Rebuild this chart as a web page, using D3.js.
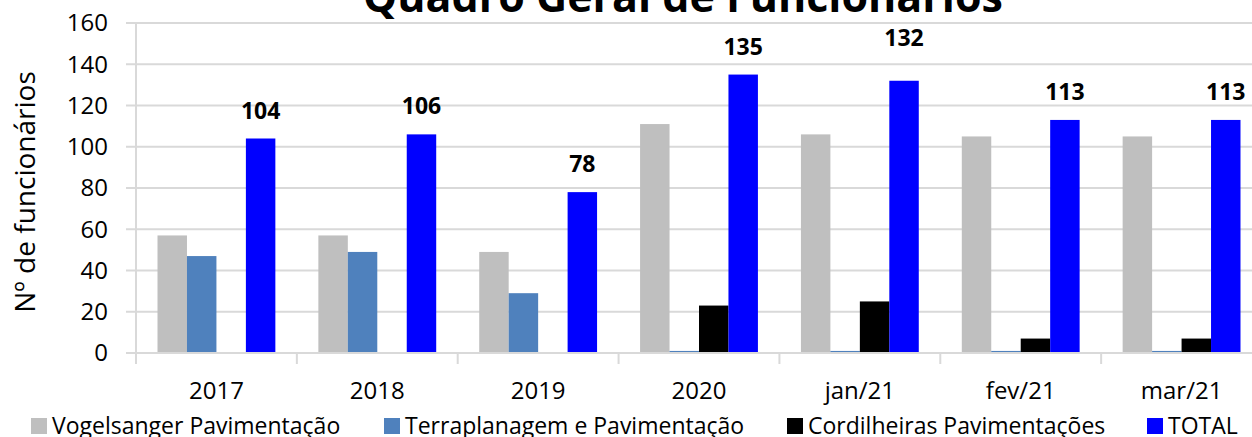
<!DOCTYPE html>
<html>
<head>
<meta charset="utf-8">
<script src="https://cdn.jsdelivr.net/npm/d3@7"></script>
<style>
  body { margin: 0; background: #fff; }
  svg text { font-family: "Open Sans", Lato, sans-serif; fill: #000; }
</style>
</head>
<body>
<svg width="1252" height="437"></svg>
<script>
var categories = ["2017", "2018", "2019", "2020", "jan/21", "fev/21", "mar/21"];
var seriesNames = ["Vogelsanger Pavimentação", "Terraplanagem e Pavimentação", "Cordilheiras Pavimentações", "TOTAL"];
var vogelsanger = [57, 57, 49, 111, 106, 105, 105];
var terraplanagem = [47, 49, 29, 1, 1, 1, 1];
var cordilheiras = [0, 0, 0, 23, 25, 7, 7];
var total = [104, 106, 78, 135, 132, 113, 113];
var yTicks = [0, 20, 40, 60, 80, 100, 120, 140, 160];
var colors = ["#BFBFBF", "#4F81BD", "#000000", "#0000FF"];

var series = [vogelsanger, terraplanagem, cordilheiras, total];

var svg = d3.select("svg"),
    width = +svg.attr("width"),
    height = +svg.attr("height");

var x0 = d3.scaleBand().domain(categories).range([136, 1262]).paddingInner(0).paddingOuter(0);
var x1 = d3.scaleBand().domain(d3.range(4)).range([0, x0.bandwidth()]).paddingOuter(0.73).paddingInner(0);
var y = d3.scaleLinear().domain([0, 160]).range([353, 23]);

// gridlines
svg.append("g")
  .selectAll("line")
  .data(yTicks)
  .enter().append("line")
    .attr("x1", 126).attr("x2", 1262)
    .attr("y1", function(d) { return y(d); })
    .attr("y2", function(d) { return y(d); })
    .attr("stroke", "#D9D9D9")
    .attr("stroke-width", 2);

// y axis line
svg.append("line")
  .attr("x1", 136).attr("x2", 136)
  .attr("y1", y(160)).attr("y2", y(0))
  .attr("stroke", "#D9D9D9").attr("stroke-width", 2);

// y tick labels
svg.append("g")
  .selectAll("text")
  .data(yTicks)
  .enter().append("text")
    .attr("x", 108)
    .attr("y", function(d) { return y(d); })
    .attr("dy", "0.35em")
    .attr("text-anchor", "end")
    .attr("font-size", "24px")
    .text(function(d) { return d; });

// bars
var groups = svg.append("g")
  .selectAll("g")
  .data(categories)
  .enter().append("g")
    .attr("transform", function(d) { return "translate(" + x0(d) + ",0)"; });

groups.selectAll("rect")
  .data(function(d, i) { return series.map(function(s, k) { return {k: k, v: s[i]}; }); })
  .enter().append("rect")
    .attr("x", function(d) { return x1(d.k); })
    .attr("width", x1.bandwidth())
    .attr("y", function(d) { return y(d.v); })
    .attr("height", function(d) { return y(0) - y(d.v); })
    .attr("fill", function(d) { return colors[d.k]; });

// category axis
var gx = svg.append("g").attr("transform", "translate(0," + y(0) + ")");
gx.append("line").attr("x1", 136).attr("x2", 1262).attr("stroke", "#D9D9D9").attr("stroke-width", 2);
gx.selectAll(".tk")
  .data(categories.concat(["end"]))
  .enter().append("line")
    .attr("x1", function(d, i) { return 136 + i * x0.bandwidth(); })
    .attr("x2", function(d, i) { return 136 + i * x0.bandwidth(); })
    .attr("y1", 0).attr("y2", 11)
    .attr("stroke", "#D9D9D9").attr("stroke-width", 2);
gx.selectAll(".cl")
  .data(categories)
  .enter().append("text")
    .attr("x", function(d) { return x0(d) + x0.bandwidth() / 2; })
    .attr("y", 46)
    .attr("text-anchor", "middle")
    .attr("font-size", "24px")
    .text(function(d) { return d; });

// total labels
var nudge = {"jan/21": 15};
svg.append("g")
  .selectAll("text")
  .data(categories)
  .enter().append("text")
    .attr("x", function(d) { return x0(d) + x1(3) + x1.bandwidth() / 2; })
    .attr("y", function(d, i) { return y(total[i]) - 20 - (nudge[d] || 0); })
    .attr("text-anchor", "middle")
    .attr("font-size", "23px")
    .attr("font-weight", "bold")
    .text(function(d, i) { return total[i]; });

// title
svg.append("text")
  .attr("x", 683)
  .attr("y", 12)
  .attr("text-anchor", "middle")
  .attr("font-size", "43px")
  .attr("font-weight", "bold")
  .text("Quadro Geral de Funcionários");

// y axis title
svg.append("text")
  .attr("transform", "translate(35,192) rotate(-90)")
  .attr("text-anchor", "middle")
  .attr("font-size", "28px")
  .text("Nº de funcionários");

// legend
var legendX = [31, 384, 787, 1147];
var legend = svg.append("g")
  .selectAll("g")
  .data(seriesNames)
  .enter().append("g")
    .attr("transform", function(d, i) { return "translate(" + legendX[i] + ",418)"; });
legend.append("rect")
  .attr("width", 16).attr("height", 16)
  .attr("fill", function(d, i) { return colors[i]; });
legend.append("text")
  .attr("x", 21).attr("y", 16)
  .attr("font-size", "23px")
  .text(function(d) { return d; });
</script>
</body>
</html>
